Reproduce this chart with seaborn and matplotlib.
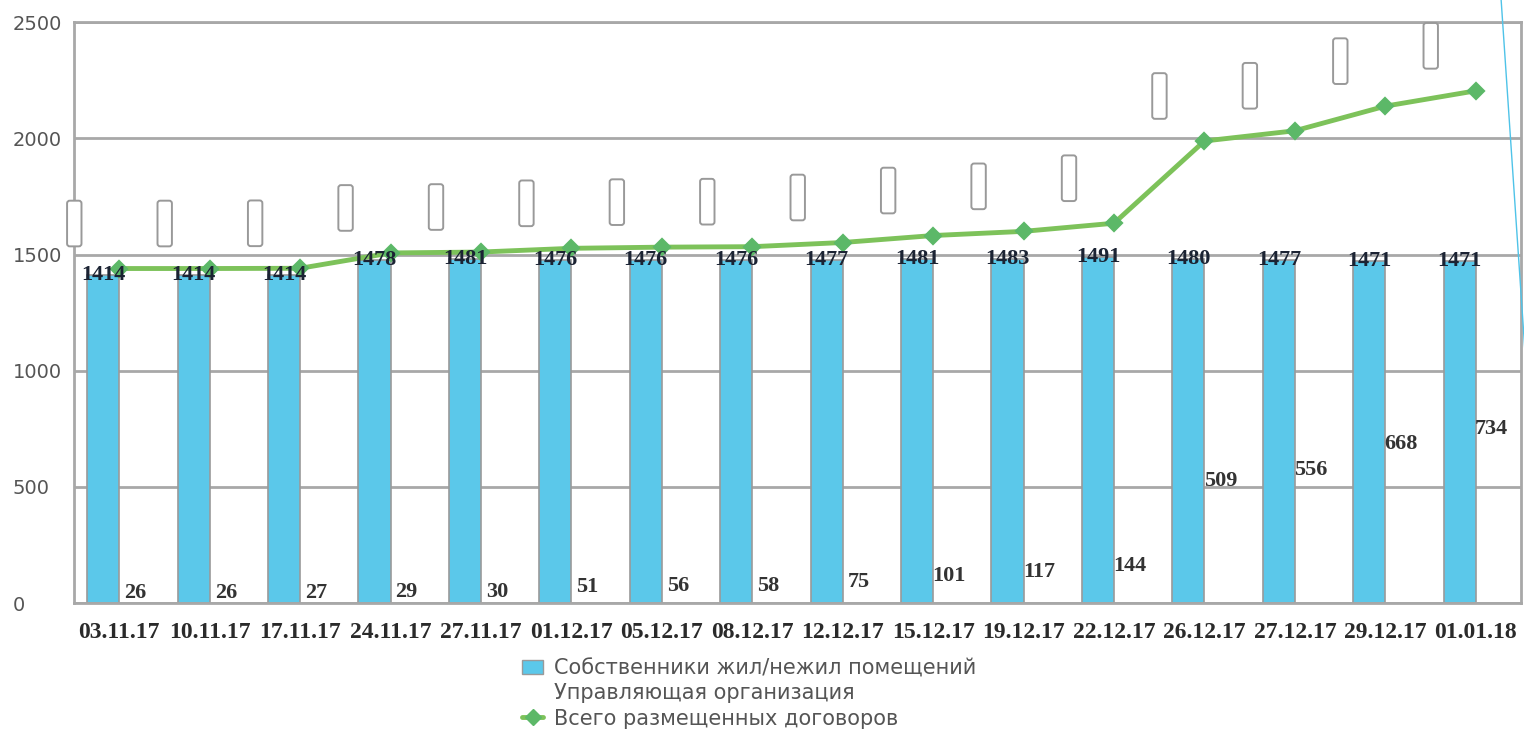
import numpy as np
import pandas as pd
import matplotlib
matplotlib.use('Agg')
import matplotlib.pyplot as plt
import seaborn as sns
from matplotlib.patches import Patch
from matplotlib.lines import Line2D

DATES = ['03.11.17', '10.11.17', '17.11.17', '24.11.17', '27.11.17', '01.12.17',
         '05.12.17', '08.12.17', '12.12.17', '15.12.17', '19.12.17', '22.12.17',
         '26.12.17', '27.12.17', '29.12.17', '01.01.18']
OWNERS = [1414, 1414, 1414, 1478, 1481, 1476, 1476, 1476, 1477, 1481, 1483, 1491,
          1480, 1477, 1471, 1471]
MANAGER = [26, 26, 27, 29, 30, 51, 56, 58, 75, 101, 117, 144, 509, 556, 668, 734]
TOTAL = [1440, 1440, 1441, 1507, 1511, 1527, 1532, 1534, 1552, 1582, 1600, 1635,
         1989, 2033, 2139, 2205]

S_OWN = 'Собственники жил/нежил помещений'
S_MAN = 'Управляющая организация'
S_TOT = 'Всего размещенных договоров'

BLUE = '#5BC8EA'
GREEN = '#7DC25A'
GRID = '#A8A8A8'

df = pd.DataFrame({
    'date': DATES * 2,
    'value': OWNERS + MANAGER,
    'series': [S_OWN] * len(DATES) + [S_MAN] * len(DATES),
})

sns.set_style('white')
fig = plt.figure(figsize=(15.24, 7.36), dpi=100)
ax = fig.add_axes([0.0486, 0.1807, 0.9494, 0.789])

sns.barplot(data=df, x='date', y='value', hue='series', order=DATES,
            hue_order=[S_OWN, S_MAN], palette=[BLUE, 'white'], width=0.71,
            saturation=1, dodge=True, edgecolor='#9a9a9a', linewidth=1.2,
            legend=False, ax=ax, zorder=2)

# second series is drawn without fill in the original
for p in ax.containers[1]:
    p.set_facecolor('none')
    p.set_edgecolor('none')

sns.pointplot(x=DATES, y=TOTAL, color=GREEN, markers='D', linestyles='-',
              markersize=7, linewidth=3.5, ax=ax, zorder=4)
for ln in ax.lines:
    ln.set_markerfacecolor('#5CB868')
    ln.set_markeredgecolor('#5CB868')
    ln.set_zorder(4)

# data labels
for p, v in zip(ax.containers[0], OWNERS):
    ax.text(p.get_x() + p.get_width() / 2, v, str(v), ha='center', va='center',
            fontsize=16, fontweight='bold', family='Liberation Serif',
            color='#1b2333', zorder=5)
for p, v in zip(ax.containers[1], MANAGER):
    ax.annotate(str(v), (p.get_x() + p.get_width() / 2, v), xytext=(0, 4),
                textcoords='offset pixels', ha='center', va='center',
                fontsize=16, fontweight='bold', family='Liberation Serif',
                color='#333333', zorder=5)

# empty label boxes of the line series
for i, v in enumerate(TOTAL):
    ax.annotate('\u00a0' * 14, (i, v), xytext=(-45, 45), textcoords='offset pixels',
                ha='center', va='center', rotation=90, fontsize=6.5,
                bbox=dict(boxstyle='round,pad=0.3', fc='white', ec='#999999', lw=1.4),
                zorder=3, annotation_clip=False)

ax.set_ylim(0, 2500)
ax.set_xlim(-0.5, len(DATES) - 0.5)
ax.set_yticks([0, 500, 1000, 1500, 2000, 2500])
ax.yaxis.grid(True, color=GRID, linewidth=2)
ax.set_axisbelow(True)
for s in ax.spines.values():
    s.set_color(GRID)
    s.set_linewidth(2)

ax.set_xlabel('')
ax.set_ylabel('')
ax.tick_params(axis='x', length=0, pad=14)
ax.tick_params(axis='y', length=0, pad=44)
for lab in ax.get_xticklabels():
    lab.set_fontfamily('Liberation Serif')
    lab.set_fontweight('bold')
    lab.set_fontsize(17)
    lab.set_color('#2a2a2a')
for lab in ax.get_yticklabels():
    lab.set_ha('left')
    lab.set_fontsize(14)
    lab.set_color('#555555')

handles = [Patch(facecolor=BLUE, edgecolor='#9a9a9a'),
           Patch(facecolor='none', edgecolor='none'),
           Line2D([0], [0], color=GREEN, lw=3.5, marker='D', markersize=8,
                  markerfacecolor='#5CB868', markeredgecolor='#5CB868')]
fig.legend(handles, [S_OWN, S_MAN, S_TOT], loc='upper left',
           bbox_to_anchor=(0.336, 0.12), frameon=False, fontsize=15,
           labelcolor='#555555', handlelength=1.0, handletextpad=0.5,
           labelspacing=0.25, borderpad=0)

# slide decoration at the right edge
fig.add_artist(Line2D([0.985, 1.002], [1.0, 0.48], color='#4FC3E8', lw=1,
                      transform=fig.transFigure))

fig.savefig('out.png', dpi=100)
